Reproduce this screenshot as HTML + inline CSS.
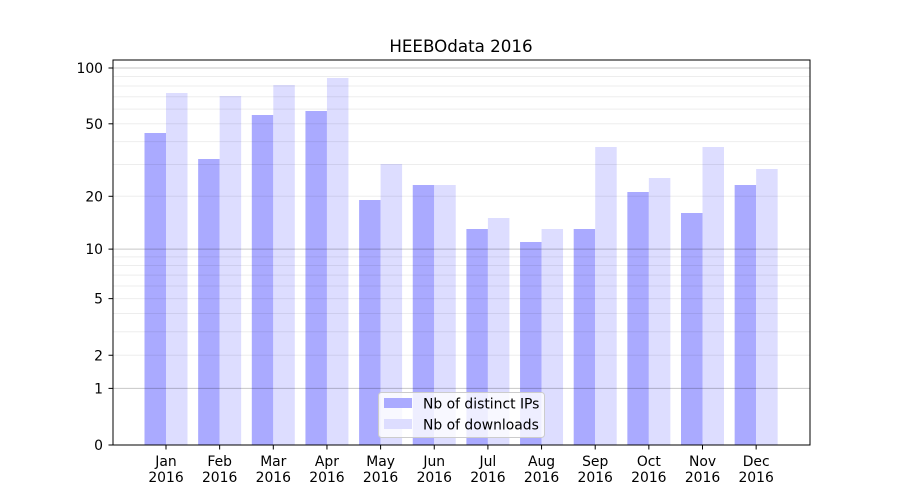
<!DOCTYPE html>
<html><head><meta charset="utf-8"><style>body{margin:0;background:#fff}svg{display:block}text{font-family:"DejaVu Sans",sans-serif;font-size:13.9px;fill:#000}</style></head>
<body><svg id="s" width="900" height="500" xmlns="http://www.w3.org/2000/svg"></svg>
<script>
const s=document.getElementById('s');let h='';
const Y=v=>445-188.1*Math.log10(1+v);
const ip=[133,159,115,111,200,185,229,242,229,192,213,185],dl=[93,96,85,78,164,185,218,229,147,178,147,169];
const m=['Jan','Feb','Mar','Apr','May','Jun','Jul','Aug','Sep','Oct','Nov','Dec'];
for(let i=0;i<12;i++){const c=166+i*53.65;
h+=`<rect x="${c-21.5}" y="${ip[i]}" width="21.5" height="${445-ip[i]}" fill="#aaaaff"/>`;
h+=`<rect x="${c}" y="${dl[i]}" width="21.5" height="${445-dl[i]}" fill="#ddddff"/>`;
h+=`<line x1="${c}" x2="${c}" y1="445" y2="449.5" stroke="#000"/>`;
h+=`<text x="${c}" y="466" text-anchor="middle">${m[i]}</text><text x="${c}" y="482" text-anchor="middle">2016</text>`;}
for(const d of [1,10]){for(let k=2;k<10;k++){const y=Y(k*d);h+=`<line x1="113" x2="810" y1="${y}" y2="${y}" stroke="#000" stroke-opacity="0.07"/>`;}}
for(const v of [1,10,100]){const y=Y(v);h+=`<line x1="113" x2="810" y1="${y}" y2="${y}" stroke="#000" stroke-opacity="0.22"/>`;}
for(const v of [0,1,2,5,10,20,50,100]){const y=Y(v);h+=`<line x1="108.5" x2="113" y1="${y}" y2="${y}" stroke="#000"/><text x="103" y="${y+5}" text-anchor="end">${v}</text>`;}
h+=`<rect x="113" y="60" width="697" height="385" fill="none" stroke="#000"/>`;
h+=`<text x="461" y="52" text-anchor="middle" style="font-size:16.7px">HEEBOdata 2016</text>`;
h+=`<rect x="378.5" y="392.5" width="166" height="45" rx="3" fill="#fff" fill-opacity="0.8" stroke="#ccc"/>`;
h+=`<rect x="384" y="398" width="28" height="10" fill="#aaaaff"/><text x="423" y="408.5">Nb of distinct IPs</text>`;
h+=`<rect x="384" y="419" width="28" height="10" fill="#ddddff"/><text x="423" y="429.5">Nb of downloads</text>`;
s.innerHTML=h;
</script></body></html>
